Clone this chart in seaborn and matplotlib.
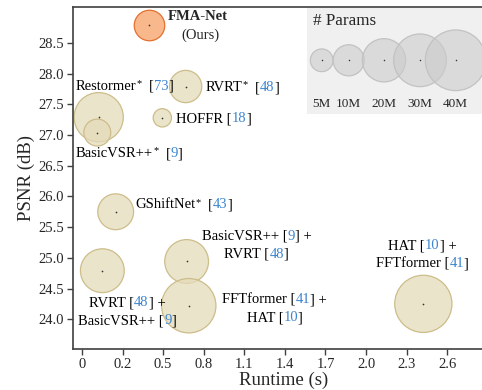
import numpy as np
import pandas as pd
import seaborn as sns
import matplotlib.pyplot as plt
from matplotlib import ft2font
from matplotlib.font_manager import FontProperties, findfont, get_font

# data
models = ['FMA-Net', 'RVRT*', 'Restormer*', 'BasicVSR++*', 'HOFFR', 'GShiftNet*',
          'BasicVSR++ + RVRT', 'RVRT + BasicVSR++', 'FFTformer + HAT', 'HAT + FFTformer']
runtime = [0.477, 0.738, 0.119, 0.109, 0.572, 0.240, 0.745, 0.145, 0.760, 2.430]
psnr = [28.79, 27.79, 27.29, 27.04, 27.28, 25.75, 24.94, 24.79, 24.22, 24.25]
params = [9.6, 10.8, 26.1, 7.3, 3.0, 13.5, 20.5, 20.5, 32.0, 35.5]
ours = [True, False, False, False, False, False, False, False, False, False]

legend_params = [5, 10, 20, 30, 40]
legend_labels = ['5M', '10M', '20M', '30M', '40M']

y_ticks = [24.0, 24.5, 25.0, 25.5, 26.0, 26.5, 27.0, 27.5, 28.0, 28.5]
x_ticks = np.linspace(0, 2.6, 10)
x_tick_labels = ['0', '0.2', '0.5', '0.8', '1.1', '1.4', '1.7', '2.0', '2.3', '2.6']

df = pd.DataFrame({'model': models, 'runtime': runtime, 'psnr': psnr,
                   'params': params, 'ours': ours})

sns.set_theme(style='ticks')
plt.rcParams['font.family'] = ['Liberation Serif', 'DejaVu Serif']

SIZES = (32.7, 1908.7)   # marker area (pt^2) for 0M .. 40M
NORM = (0, 40)
BLUE = '#3d85cf'
PX = 0.72  # points per pixel at dpi 100
FS = 10.5
FS_STAR = 7.5

fig = plt.figure(figsize=(4.82, 3.90), dpi=100)
ax = fig.add_axes([72.7 / 482, 40.7 / 390, (494 - 72.7) / 482, 342 / 390])

sns.scatterplot(data=df[~df.ours], x='runtime', y='psnr', size='params', sizes=SIZES,
                size_norm=NORM, legend=False, color='#e4dbba', edgecolor='#cdbd8a',
                linewidth=0.9, ax=ax)
ax.collections[-1].set_facecolor((0.894, 0.859, 0.729, 0.75))
sns.scatterplot(data=df[df.ours], x='runtime', y='psnr', size='params', sizes=SIZES,
                size_norm=NORM, legend=False, color='#f8b88c', edgecolor='#e4702f',
                linewidth=0.9, ax=ax)
sns.scatterplot(data=df, x='runtime', y='psnr', s=1.5, color='#333333', linewidth=0, ax=ax)

ax.set_xlim(-0.066, 2.933)
ax.set_ylim(23.51, 29.08)
ax.set_xticks(x_ticks)
ax.set_xticklabels(x_tick_labels)
ax.set_yticks(y_ticks)
ax.set_yticklabels([f'{v:.1f}' for v in y_ticks])
ax.tick_params(labelsize=FS, length=4, width=1, color='#404040', pad=2)
ax.set_xlabel('Runtime (s)', fontsize=13.5, labelpad=1)
ax.set_ylabel('PSNR (dB)', fontsize=13.5, labelpad=2.5)
for s in ['left', 'bottom', 'top']:
    ax.spines[s].set_color('#404040')
    ax.spines[s].set_linewidth(1.2)
ax.spines['right'].set_visible(False)

_font = get_font(findfont(FontProperties(family='Liberation Serif')))
_kern = ft2font.Kerning.DEFAULT if hasattr(ft2font, 'Kerning') else ft2font.KERNING_DEFAULT


def advance(s, size):
    # horizontal advance (with kerning) of a string, in points
    _font.set_size(size, 72)
    x, prev = 0.0, None
    for c in s:
        idx = _font.get_char_index(ord(c))
        if prev is not None:
            x += _font.get_kerning(prev, idx, _kern) / 64
        x += _font.load_glyph(idx).linearHoriAdvance / 65536
        prev = idx
    return x


def label(i, dx, dy, lines, ha='left'):
    # lines: list of lines, each a list of (text, colour) pieces; '*' is a superscript.
    # dx, dy: offset of the line centre from the marker, in pixels
    xy = (runtime[i], psnr[i])
    for k, line in enumerate(lines):
        widths = [advance(t, FS_STAR if t == '*' else FS) for t, _ in line]
        x0 = dx * PX - (sum(widths) / 2 if ha == 'center' else 0)
        y0 = (dy - 18 * k - 4.5) * PX
        for (t, c), w in zip(line, widths):
            small = t == '*'
            ax.annotate(t.lstrip(), xy,
                        xytext=(x0 + advance(t[:len(t) - len(t.lstrip())], FS),
                                y0 + (3.5 * PX if small else 0)),
                        textcoords='offset points', ha='left', va='baseline',
                        color=c, fontsize=FS_STAR if small else FS)
            x0 += w


k = 'black'
ax.annotate('FMA-Net', (runtime[0], psnr[0]), xytext=(49 * PX, 9 * PX),
            textcoords='offset points', ha='center', va='center',
            fontsize=FS, fontweight='bold')
ax.annotate('(Ours)', (runtime[0], psnr[0]), xytext=(51 * PX, -10 * PX),
            textcoords='offset points', ha='center', va='center', fontsize=FS)
label(1, 20, 0, [[('RVRT', k), ('*', k), ('  [', k), ('48', BLUE), (']', k)]])
label(2, 26, 32, [[('Restormer', k), ('*', k), ('  [', k), ('73', BLUE), (']', k)]], ha='center')
label(3, 32, -20, [[('BasicVSR++', k), ('*', k), ('  [', k), ('9', BLUE), (']', k)]], ha='center')
label(4, 14, 0, [[('HOFFR [', k), ('18', BLUE), (']', k)]])
label(5, 20, 8, [[('GShiftNet', k), ('*', k), ('  [', k), ('43', BLUE), (']', k)]])
label(6, 70, 26, [[('BasicVSR++ [', k), ('9', BLUE), ('] +', k)],
                  [('RVRT [', k), ('48', BLUE), (']', k)]], ha='center')
label(7, 25, -31, [[('RVRT [', k), ('48', BLUE), ('] +', k)],
                   [('BasicVSR++ [', k), ('9', BLUE), (']', k)]], ha='center')
label(8, 86, 7, [[('FFTformer [', k), ('41', BLUE), ('] +', k)],
                 [('HAT [', k), ('10', BLUE), (']', k)]], ha='center')
label(9, -1, 59, [[('HAT [', k), ('10', BLUE), ('] +', k)],
                  [('FFTformer [', k), ('41', BLUE), (']', k)]], ha='center')

# size legend
lw, lh = 494 - 306.7, 106
lax = fig.add_axes([306.7 / 482, (390 - 114) / 390, lw / 482, lh / 390])
lax.set_facecolor('#f0f0f0')
legend_x = [15, 42, 77.3, 113.3, 149]
sns.scatterplot(x=legend_x, y=[53.7] * 5, size=legend_params, sizes=SIZES, size_norm=NORM,
                legend=False, color='#d9d9d9', edgecolor='#c2c2c2', linewidth=0.9, ax=lax)
lax.collections[-1].set_facecolor((0.80, 0.80, 0.80, 0.6))
sns.scatterplot(x=legend_x, y=[53.7] * 5, s=1.2, color='#333333', linewidth=0, ax=lax)
for x, t in zip(legend_x, legend_labels):
    lax.text(x, 10, t, ha='center', va='center', fontsize=9.5)
lax.text(6, 93, '# Params', ha='left', va='center', fontsize=12.3)
lax.set_xlim(0, lw)
lax.set_ylim(0, lh)
lax.set_xticks([])
lax.set_yticks([])
lax.set_xlabel('')
lax.set_ylabel('')
for s in lax.spines.values():
    s.set_visible(False)

plt.savefig('out.png', dpi=100)
